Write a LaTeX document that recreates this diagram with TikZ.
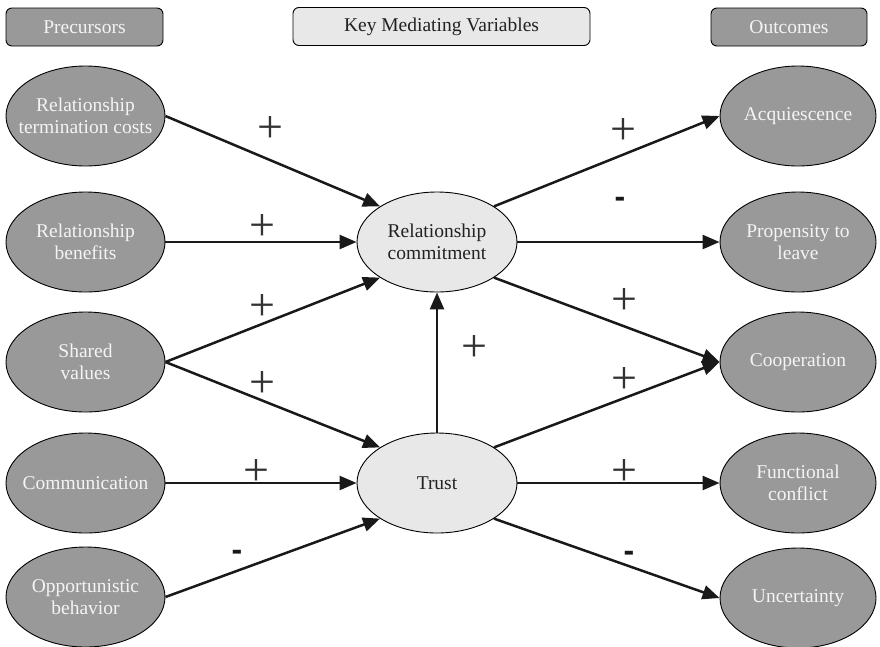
\documentclass[tikz,border=0pt]{standalone}
\usepackage{fontspec}
\setmainfont{Liberation Serif}
\newfontfamily\signfont{Liberation Sans}
\usetikzlibrary{shapes.geometric,arrows.meta}
\definecolor{darkfill}{HTML}{999999}
\definecolor{lightfill}{HTML}{E8E8E8}
\definecolor{inktext}{HTML}{222222}
\definecolor{paletext}{HTML}{F4F4F4}
\tikzset{
  headbox/.style={draw=black, line width=0.9pt, rounded corners=6pt, minimum height=38pt, inner sep=0pt,
    font=\fontsize{19.5}{22}\selectfont},
  darkhead/.style={headbox, fill=darkfill, text=paletext},
  lighthead/.style={headbox, fill=lightfill, text=inktext},
  oval/.style={ellipse, draw=black, line width=0.9pt, inner sep=0pt, minimum height=100pt},
  darkoval/.style={oval, fill=darkfill, minimum width=159pt},
  outoval/.style={oval, fill=darkfill, minimum width=156pt},
  lightoval/.style={oval, fill=lightfill, minimum width=160pt},
  palelabel/.style={text=paletext, align=center, inner sep=0pt, font=\fontsize{19.5}{22}\selectfont},
  inklabel/.style={text=inktext, align=center, inner sep=0pt, font=\fontsize{19.5}{22}\selectfont},
  link/.style={line width=2.5pt, black!90, -{Triangle[length=17pt,width=14pt]}},
  plus/.style={inner sep=0pt, text=black!80, font=\fontsize{46}{46}\selectfont},
  minus/.style={inner sep=0pt, text=black!90, font=\signfont\bfseries\fontsize{32}{32}\selectfont},
}
\begin{document}
\begin{tikzpicture}[x=1pt, y=-1pt]
\useasboundingbox (0,0) rectangle (880,646);

% column headings
\node[darkhead, minimum width=157pt] (hpre) at (84.5,27) {Precursors};
\node[lighthead, minimum width=297pt] (hkey) at (441.5,26.5) {Key Mediating Variables};
\node[darkhead, minimum width=156pt] (hout) at (789,27) {Outcomes};

% precursors
\node[darkoval, label={[palelabel]center:{Relationship\\termination costs}}] (e1) at (85.5,116) {};
\node[darkoval, label={[palelabel]center:{Relationship\\benefits}}] (e2) at (85.5,242) {};
\node[darkoval, label={[palelabel]center:{Shared\\values}}] (e3) at (85.5,362) {};
\node[darkoval, label={[palelabel]center:{Communication}}] (e4) at (85.5,483) {};
\node[darkoval, label={[palelabel]center:{Opportunistic\\behavior}}] (e5) at (85.5,597) {};

% mediating variables
\node[lightoval, label={[inklabel]center:{Relationship\\commitment}}] (rc) at (437,242) {};
\node[lightoval, label={[inklabel]center:{Trust}}] (tr) at (437,483) {};

% outcomes
\node[outoval, label={[palelabel]center:{Acquiescence}}] (r1) at (798,116) {};
\node[outoval, label={[palelabel]center:{Propensity to\\leave}}] (r2) at (798,242) {};
\node[outoval, label={[palelabel]center:{Cooperation}}] (r3) at (798,362) {};
\node[outoval, label={[palelabel]center:{Functional\\conflict}}] (r4) at (798,483) {};
\node[outoval, label={[palelabel]center:{Uncertainty}}] (r5) at (798,598) {};

% paths into the mediators
\draw[link] (e1.east) -- (rc.148);
\draw[link] (e2.east) -- (rc.west);
\draw[link] (e3.east) -- (rc.212);
\draw[link] (e3.east) -- (tr.148);
\draw[link] (e4.east) -- (tr.west);
\draw[link] (e5.east) -- (tr.212);
\draw[link] (tr.north) -- (rc.south);

% paths to the outcomes
\draw[link] (rc.32) -- (r1.west);
\draw[link] (rc.east) -- (r2.west);
\draw[link] (rc.-32) -- (r3.west);
\draw[link] (tr.32) -- (r3.west);
\draw[link] (tr.east) -- (r4.west);
\draw[link] (tr.-32) -- (r5.west);

% signs of the effects
\node[plus] (s1) at (270,130) {+};
\node[plus] (s2) at (262,227) {+};
\node[plus] (s3) at (262,307) {+};
\node[plus] (s4) at (262,384) {+};
\node[plus] (s5) at (256,472) {+};
\node[minus] (s6) at (237,555) {-};
\node[plus] (s7) at (474,348) {+};
\node[plus] (s8) at (623,132) {+};
\node[minus] (s9) at (620,202) {-};
\node[plus] (s10) at (624,301) {+};
\node[plus] (s11) at (624,380) {+};
\node[plus] (s12) at (624,472) {+};
\node[minus] (s13) at (629,556) {-};
\end{tikzpicture}
\end{document}
